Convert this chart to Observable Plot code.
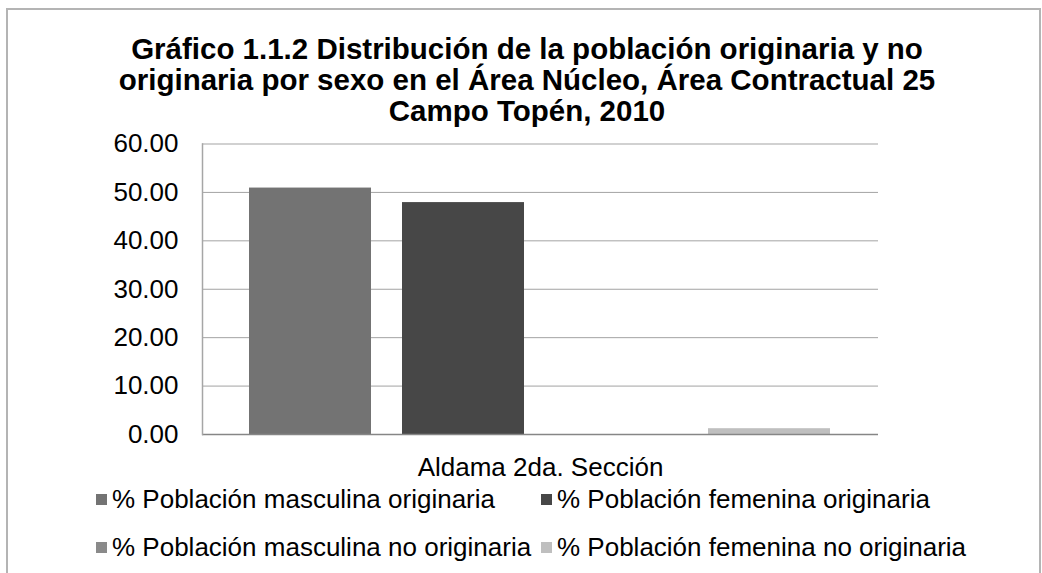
<!DOCTYPE html>
<html><head><meta charset="utf-8">
<script src="https://cdn.jsdelivr.net/npm/d3@7"></script>
<script src="https://cdn.jsdelivr.net/npm/@observablehq/plot@0.6"></script>
<style>
html,body{margin:0;padding:0;background:#fff;}
body{width:1042px;height:573px;position:relative;overflow:hidden;font-family:"Liberation Sans",Arial,sans-serif;}
#frame{position:absolute;left:6px;top:8px;width:1035px;height:620px;border:2px solid #b4b4b4;box-sizing:border-box;}
#title{position:absolute;left:0;width:1054px;top:33px;text-align:center;font-weight:bold;font-size:29.5px;line-height:31px;color:#000;}
#chart{position:absolute;left:0;top:120px;}
#legend{position:absolute;left:96px;top:484px;display:grid;grid-template-columns:445px auto;row-gap:18px;font-size:26px;line-height:30px;color:#000;}
.item{white-space:nowrap;display:flex;align-items:center;}
.sw{display:inline-block;width:11px;height:11px;margin-right:5px;flex:none;}
</style>
</head>
<body>
<div id="frame"></div>
<div id="title">Gráfico 1.1.2 Distribución de la población originaria y no<br>originaria por sexo en el Área Núcleo, Área Contractual 25<br>Campo Topén, 2010</div>
<div id="chart"></div>
<div id="legend"></div>
<script>
const categories = ["Aldama 2da. Sección"];
const series = [
  "% Población masculina originaria",
  "% Población femenina originaria",
  "% Población masculina no originaria",
  "% Población femenina no originaria"
];
const values = [50.9, 47.9, 0.0, 1.2];
const yTicks = [0, 10, 20, 30, 40, 50, 60];
const colors = ["#737373", "#474747", "#8a8a8a", "#bfbfbf"];

const data = series.map((s, i) => ({category: categories[0], serie: s, value: values[i]}));

const chart = Plot.plot({
  width: 1042, height: 360,
  marginLeft: 202, marginRight: 164, marginTop: 23.5, marginBottom: 46,
  style: {fontFamily: '"Liberation Sans", Arial, sans-serif', fontSize: "26px", color: "#000", background: "transparent", overflow: "visible"},
  fx: {domain: categories, padding: 0, label: null},
  x: {domain: series, paddingInner: 0.2, paddingOuter: 0.3, axis: null},
  y: {domain: [0, 60], label: null},
  color: {domain: series, range: colors},
  marks: [
    Plot.gridY(yTicks, {stroke: "#a3a3a3", strokeOpacity: 1}),
    Plot.barY(data, {fx: "category", x: "serie", y: "value", fill: "serie"}),
    Plot.ruleY([0], {stroke: "#868686", strokeWidth: 1.5}),
    Plot.frame({anchor: "left", stroke: "#a6a6a6", strokeWidth: 1.5}),
    Plot.axisY(yTicks, {tickSize: 0, tickPadding: 24, tickFormat: d3.format(".2f"), fontSize: 26, label: null}),
    Plot.axisFx({anchor: "bottom", tickSize: 0, tickPadding: 23, fontSize: 26, label: null})
  ]
});
document.getElementById("chart").appendChild(chart);

const legend = document.getElementById("legend");
series.forEach((s, i) => {
  const item = document.createElement("div");
  item.className = "item";
  const sw = document.createElement("span");
  sw.className = "sw";
  sw.style.background = colors[i];
  item.appendChild(sw);
  item.appendChild(document.createTextNode(s));
  legend.appendChild(item);
});
</script>
</body></html>
